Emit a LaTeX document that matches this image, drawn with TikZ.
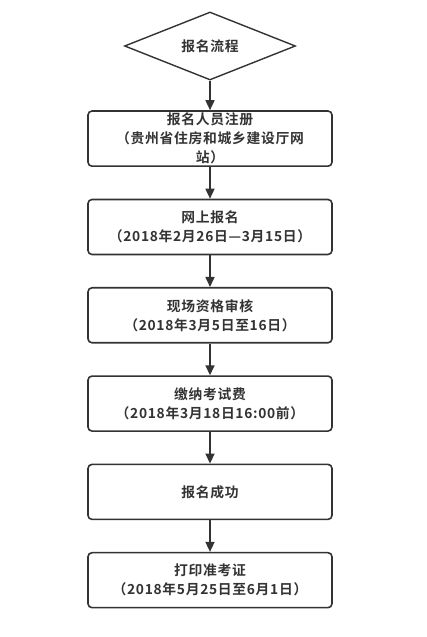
\documentclass[tikz,border=0pt]{standalone}
\usepackage{fontspec}
\setmainfont{Noto Sans CJK SC}[BoldFont={Noto Sans CJK SC Bold}, LetterSpace=5]
\usetikzlibrary{arrows.meta, positioning, shapes.geometric}
\definecolor{linegray}{HTML}{333333}

\begin{document}
\begin{tikzpicture}[
    x=1pt, y=1pt,
    font=\fontsize{13.8}{19}\selectfont\bfseries,
    text=linegray,
    stepbox/.style={draw=linegray, line width=1.6pt, rounded corners=4pt,
                    minimum width=244pt, minimum height=55pt, align=center, inner sep=2pt},
    startnode/.style={draw=linegray, line width=1.4pt, diamond, aspect=2.5,
                      inner sep=0pt, minimum width=171pt, minimum height=68pt},
    arr/.style={-{Triangle[length=10pt, width=9pt]}, line width=1.6pt, draw=linegray},
    node distance=31.7pt
]
\useasboundingbox (0,0) rectangle (427,-637);

%% ---- flow ------------------------------------------------------
\node[startnode] (start) at (210,-46) {报名流程};
\node[stepbox, below=29.5pt of start] (register) {报名人员注册\\（贵州省住房和城乡建设厅网\\站）};
\node[stepbox, below=of register]   (online)   {网上报名\\（2018年2月26日—3月15日）};
\node[stepbox, below=of online]     (review)   {现场资格审核\\（2018年3月5日至16日）};
\node[stepbox, below=of review]     (fee)      {缴纳考试费\\（2018年3月18日16:00前）};
\node[stepbox, below=of fee]        (done)     {报名成功};
\node[stepbox, below=of done]       (ticket)   {打印准考证\\（2018年5月25日至6月1日）};

\draw[arr] (start)    -- (register);
\draw[arr] (register) -- (online);
\draw[arr] (online)   -- (review);
\draw[arr] (review)   -- (fee);
\draw[arr] (fee)      -- (done);
\draw[arr] (done)     -- (ticket);

\end{tikzpicture}
\end{document}
